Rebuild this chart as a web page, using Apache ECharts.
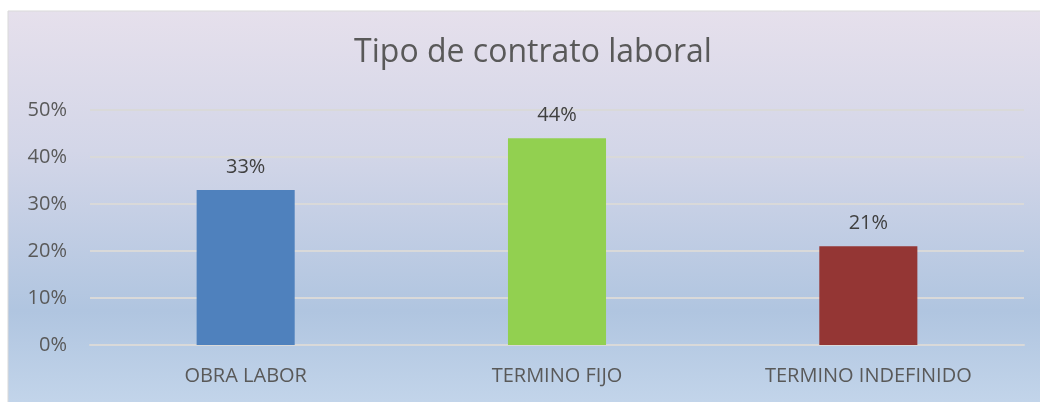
<!DOCTYPE html>
<html>
<head>
<meta charset="utf-8">
<script src="https://cdn.jsdelivr.net/npm/echarts@6/dist/echarts.min.js"></script>
<style>
  html, body { margin: 0; padding: 0; background: #fff; }
  #chart { width: 1040px; height: 402px; }
</style>
</head>
<body>
<div id="chart"></div>
<script>
var categories = ['OBRA LABOR', 'TERMINO FIJO', 'TERMINO INDEFINIDO'];
var values = [0.33, 0.44, 0.21];
var barColors = ['#4F81BD', '#92D050', '#943634'];

document.addEventListener('DOMContentLoaded', function () {
    var myChart = echarts.init(document.getElementById('chart'));
    var font = '"Open Sans", "Noto Sans", sans-serif';
    myChart.setOption({
        animation: false,
        graphic: [{
            type: 'rect',
            z: -10,
            silent: true,
            shape: { x: 8, y: 11, width: 1040, height: 400 },
            style: {
                fill: new echarts.graphic.LinearGradient(0, 0, 0, 1, [
                    { offset: 0, color: '#E6E0EC' },
                    { offset: 0.35, color: '#D3D6E8' },
                    { offset: 0.75, color: '#B0C5E0' },
                    { offset: 1, color: '#C4D6EB' }
                ]),
                stroke: '#D9D9D9',
                lineWidth: 1
            }
        }],
        title: {
            text: 'Tipo de contrato laboral',
            left: 528,
            textAlign: 'center',
            top: 32,
            textStyle: {
                fontFamily: font,
                fontSize: 32,
                fontWeight: 'normal',
                color: '#595959'
            }
        },
        grid: { left: 90, right: 16, top: 110, bottom: 57 },
        xAxis: {
            type: 'category',
            data: categories,
            axisLine: { lineStyle: { color: '#D9D9D9', width: 2 } },
            axisTick: { show: false },
            axisLabel: {
                margin: 21,
                fontFamily: font,
                fontSize: 20,
                color: '#595959'
            }
        },
        yAxis: {
            type: 'value',
            min: 0,
            max: 0.5,
            interval: 0.1,
            axisLine: { show: false },
            axisTick: { show: false },
            splitLine: { lineStyle: { color: '#D9D9D9', width: 2 } },
            axisLabel: {
                margin: 23,
                fontFamily: font,
                fontSize: 20,
                color: '#595959',
                formatter: function (v) { return Math.round(v * 100) + '%'; }
            }
        },
        series: [{
            type: 'bar',
            barWidth: '31.5%',
            data: values.map(function (v, i) {
                return { value: v, itemStyle: { color: barColors[i] } };
            }),
            label: {
                show: true,
                position: 'top',
                distance: 13,
                fontFamily: font,
                fontSize: 20,
                color: '#404040',
                formatter: function (p) { return Math.round(p.value * 100) + '%'; }
            }
        }]
    });
});
</script>
</body>
</html>
